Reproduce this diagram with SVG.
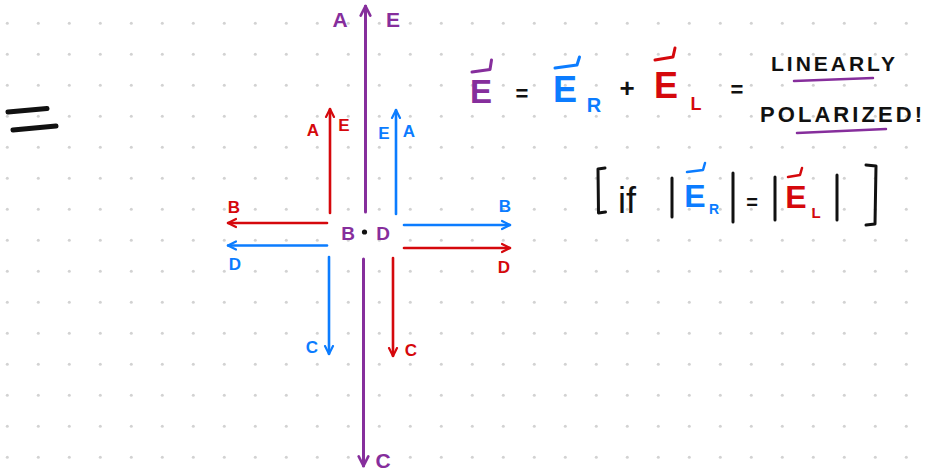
<svg xmlns="http://www.w3.org/2000/svg" width="928" height="473" viewBox="0 0 928 473">
<style>
.t{font-family:"Liberation Sans","DejaVu Sans",sans-serif;font-weight:bold;text-anchor:middle}
.p{fill:#862e9c}.r{fill:#d5080c}.b{fill:#0b7cff}.k{fill:#111}
.lp{stroke:#862e9c}.lr{stroke:#d5080c}.lb{stroke:#0b7cff}.lk{stroke:#111}
.ln{fill:none;stroke-linecap:round;stroke-linejoin:round}
</style>
<defs>
<pattern id="grid" width="31" height="31" patternUnits="userSpaceOnUse">
<circle cx="7.3" cy="23.3" r="1.5" fill="#d2d2d2"/>
</pattern>
<marker id="mp" viewBox="0 0 10 10" refX="9" refY="5" markerWidth="12" markerHeight="14" markerUnits="userSpaceOnUse" orient="auto">
<path d="M1,1 L9,5 L1,9" fill="none" stroke="#862e9c" stroke-width="2.2" stroke-linecap="round" stroke-linejoin="round"/>
</marker>
<marker id="mr" viewBox="0 0 10 10" refX="9" refY="5" markerWidth="10" markerHeight="12" markerUnits="userSpaceOnUse" orient="auto">
<path d="M1,1 L9,5 L1,9" fill="none" stroke="#d5080c" stroke-width="2.2" stroke-linecap="round" stroke-linejoin="round"/>
</marker>
<marker id="mb" viewBox="0 0 10 10" refX="9" refY="5" markerWidth="10" markerHeight="12" markerUnits="userSpaceOnUse" orient="auto">
<path d="M1,1 L9,5 L1,9" fill="none" stroke="#0b7cff" stroke-width="2.2" stroke-linecap="round" stroke-linejoin="round"/>
</marker>
</defs>
<rect width="928" height="473" fill="#fff"/>
<rect width="928" height="473" fill="url(#grid)"/>

<g id="equals-left" class="ln lk" stroke-width="5">
<path d="M8,112 L47,108.5"/>
<path d="M13,130 L56,126"/>
</g>

<g id="connectors" class="ln" stroke-width="2.6">
<path class="lp" stroke-width="3" d="M365.5,212 L365.5,6" marker-end="url(#mp)"/>
<path class="lp" stroke-width="3" d="M363.5,259 L363.5,466" marker-end="url(#mp)"/>
<path class="lr" d="M330,213 L330,109" marker-end="url(#mr)"/>
<path class="lb" d="M396,214 L396,110" marker-end="url(#mb)"/>
<path class="lr" d="M327,223 L228,223" marker-end="url(#mr)"/>
<path class="lb" d="M404,225 L510,225" marker-end="url(#mb)"/>
<path class="lb" d="M327,245.5 L228,245.5" marker-end="url(#mb)"/>
<path class="lr" d="M404,248 L510,248" marker-end="url(#mr)"/>
<path class="lb" d="M329,257 L329,354" marker-end="url(#mb)"/>
<path class="lr" d="M393,258 L393,356" marker-end="url(#mr)"/>
</g>

<g id="labels-purple" class="t p">
<text x="340" y="27" font-size="21">A</text>
<text x="393" y="27" font-size="21">E</text>
<text x="383" y="468" font-size="21">C</text>
</g>
<g id="labels-red" class="t r" font-size="17">
<text x="313" y="136">A</text>
<text x="344" y="131">E</text>
<text x="234" y="213">B</text>
<text x="504" y="273">D</text>
<text x="411" y="356">C</text>
</g>
<g id="labels-blue" class="t b" font-size="17">
<text x="384" y="139">E</text>
<text x="409" y="137">A</text>
<text x="505" y="212">B</text>
<text x="235" y="270">D</text>
<text x="312" y="353">C</text>
</g>
<g id="center">
<text class="t p" x="348" y="240" font-size="19">B</text>
<circle cx="364.5" cy="232" r="2.6" fill="#111"/>
<text class="t p" x="383" y="240" font-size="19">D</text>
</g>

<g id="equation">
<text class="t p" x="481" y="103" font-size="33">E</text>
<path class="ln lp" stroke-width="3" d="M472,72 L490,69.5 L491.5,60"/>
<text class="t k" x="522" y="101" font-size="22">=</text>
<text class="t b" x="565" y="102" font-size="36">E</text>
<path class="ln lb" stroke-width="3" d="M555,68 L577,65 L579.5,57"/>
<text class="t b" x="594" y="112" font-size="20">R</text>
<text class="t k" x="627" y="97" font-size="26">+</text>
<text class="t r" x="666" y="98" font-size="36">E</text>
<path class="ln lr" stroke-width="3" d="M655,60 L673,57 L675,48"/>
<text class="t r" x="696" y="110" font-size="18">L</text>
<text class="t k" x="737" y="97" font-size="22">=</text>
</g>

<g id="linearly-polarized">
<text class="t k" x="833" y="71" font-size="21" textLength="124" lengthAdjust="spacing">LINEARLY</text>
<path class="ln lp" stroke-width="2.5" d="M794,81 L873,78"/>
<text class="t k" x="841" y="122" font-size="22" textLength="162" lengthAdjust="spacing">POLARIZED!</text>
<path class="ln lp" stroke-width="2.5" d="M797,133 L886,129"/>
</g>

<g id="condition">
<path class="ln lk" stroke-width="3" d="M605,168 L598,169 L598.5,213 L605.5,212"/>
<text class="t k" x="627" y="213" font-size="36" style="font-weight:normal">if</text>
<path class="ln lk" stroke-width="3" d="M672,178 L672,217"/>
<text class="t b" x="695" y="207" font-size="32">E</text>
<path class="ln lb" stroke-width="2.5" d="M687,172 L703,170 L705,163"/>
<text class="t b" x="714" y="214" font-size="14">R</text>
<path class="ln lk" stroke-width="3" d="M733,173 L733,222"/>
<text class="t k" x="752" y="209" font-size="20">=</text>
<path class="ln lk" stroke-width="3" d="M775,177 L775,220"/>
<text class="t r" x="796" y="208" font-size="32">E</text>
<path class="ln lr" stroke-width="2.5" d="M788,177 L800,175 L802,168"/>
<text class="t r" x="816" y="218" font-size="15">L</text>
<path class="ln lk" stroke-width="3" d="M837,175 L837,220"/>
<path class="ln lk" stroke-width="3" d="M866,165 L876,166 L875,224 L866,225"/>
</g>
</svg>
